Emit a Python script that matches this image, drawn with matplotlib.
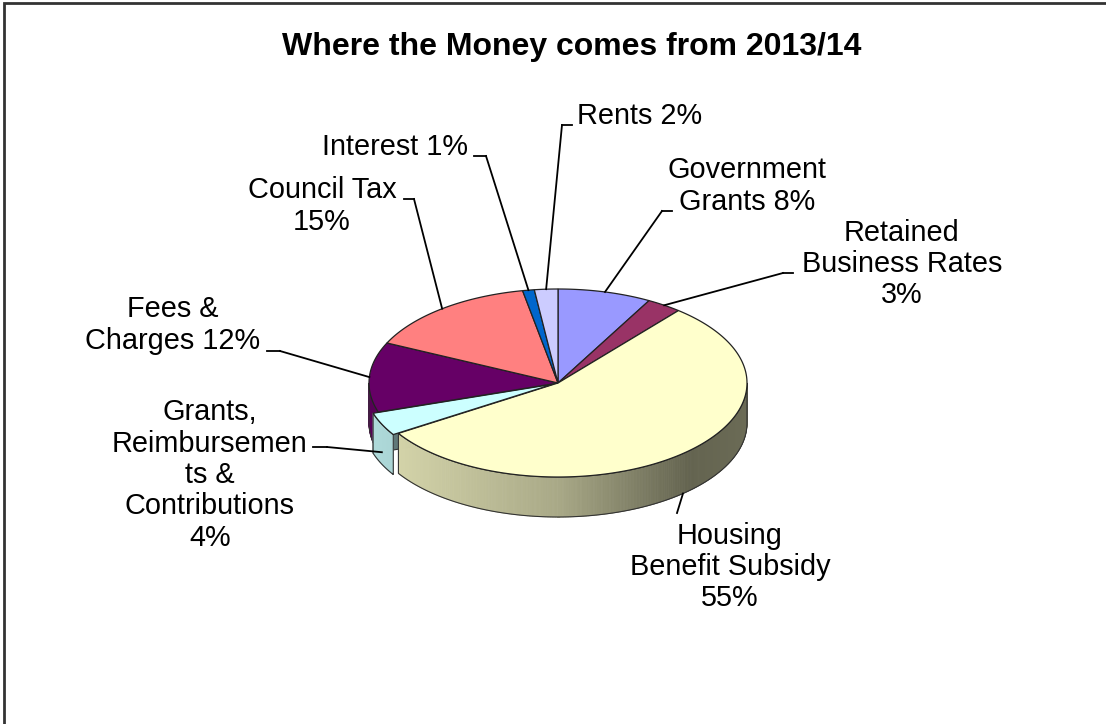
import numpy as np
import matplotlib.pyplot as plt
from matplotlib.patches import Polygon
from matplotlib.collections import PolyCollection
from matplotlib.colors import to_rgb

plt.rcParams['font.family'] = ['Liberation Sans', 'DejaVu Sans']

# Income sources, in drawing order (clockwise from 12 o'clock)
sources = ["Government\nGrants 8%", "Retained\nBusiness Rates\n3%", "Housing\nBenefit Subsidy\n55%",
           "Grants,\nReimbursemen\nts &\nContributions\n4%", "Fees &\nCharges 12%",
           "Council Tax\n15%", "Interest 1%", "Rents 2%"]
shares = [8, 3, 55, 4, 12, 15, 1, 2]
colors = ["#9999FF", "#993366", "#FFFFCC", "#CCFFFF", "#660066", "#FF8080", "#0066CC", "#CCCCFF"]
exploded = [0, 0, 0, 1, 0, 0, 0, 0]

# pie geometry (pixels)
cx, cy = 558, 383
rx, ry = 189, 94
depth = 40
explode_dist = 0.03

fig = plt.figure(figsize=(11.06, 7.24), dpi=100)
ax = fig.add_axes([0, 0, 1, 1])
ax.set_xlim(0, 1106)
ax.set_ylim(724, 0)
ax.axis('off')

# chart frame (only top and left edges fall inside the image)
ax.plot([4, 4, 1130], [740, 3, 3], color="#333333", lw=2, solid_joinstyle='miter')

ax.text(572, 47, "Where the Money comes from 2013/14", ha='center', va='center',
        fontsize=23, fontweight='bold')


def rim(theta, dx=0, dy=0, drop=0):
    t = np.radians(theta)
    return cx + dx + rx * np.cos(t), cy + dy - ry * np.sin(t) + drop


def shade(x):
    return np.interp(x, [369, 560, 690, 747], [0.86, 0.66, 0.39, 0.42])


# slice angles
total = sum(shares)
bounds = [90.0]
for s in shares:
    bounds.append(bounds[-1] - 360.0 * s / total)

offsets = []
for i in range(len(shares)):
    mid = np.radians((bounds[i] + bounds[i + 1]) / 2)
    d = explode_dist * exploded[i]
    offsets.append((d * rx * np.cos(mid), -d * ry * np.sin(mid)))


def draw_side(i):
    a1, a0 = bounds[i], bounds[i + 1]  # a0 < a1
    dx, dy = offsets[i]
    base = np.array(to_rgb(colors[i]))
    # visible angular range: angles where the rim faces the viewer
    lo = a0 % 360
    hi = lo + (a1 - a0)
    for start in (180, 540):
        s0, s1 = max(lo, start), min(hi, start + 180)
        if s1 <= s0:
            continue
        ts = np.linspace(s0, s1, int((s1 - s0) * 2) + 2)
        quads, cols = [], []
        for ta, tb in zip(ts[:-1], ts[1:]):
            xa, ya = rim(ta, dx, dy)
            xb, yb = rim(tb, dx, dy)
            quads.append([(xa, ya), (xb, yb), (xb, yb + depth), (xa, ya + depth)])
            cols.append(np.clip(base * shade((xa + xb) / 2), 0, 1))
        ax.add_collection(PolyCollection(quads, facecolors=cols, edgecolors=cols, lw=0.6))
        top = [rim(t, dx, dy) for t in ts]
        bot = [rim(t, dx, dy, depth) for t in ts[::-1]]
        ax.add_patch(Polygon(top + bot, closed=True, fill=False, edgecolor="#333333", lw=0.8))


# cut faces of exploded slices (clockwise edge faces the viewer)
for i in range(len(shares)):
    if exploded[i]:
        dx, dy = offsets[i]
        p1 = (cx + dx, cy + dy)
        p2 = rim(bounds[i + 1], dx, dy)
        face = [p1, p2, (p2[0], p2[1] + depth), (p1[0], p1[1] + depth)]
        ax.add_patch(Polygon(face, closed=True, facecolor=np.array(to_rgb(colors[i])) * 0.47,
                             edgecolor="#333333", lw=0.8))

# side walls: slices in place first, exploded ones in front of them
for i in range(len(shares)):
    if not exploded[i]:
        draw_side(i)
for i in range(len(shares)):
    if exploded[i]:
        draw_side(i)

# top faces
for i in range(len(shares)):
    a1, a0 = bounds[i], bounds[i + 1]
    dx, dy = offsets[i]
    ts = np.linspace(a1, a0, max(int((a1 - a0) * 2), 4))
    pts = [(cx + dx, cy + dy)] + [rim(t, dx, dy) for t in ts]
    ax.add_patch(Polygon(pts, closed=True, facecolor=colors[i], edgecolor="#222222", lw=0.9))

# data labels: text centre, alignment, elbow point, end of short tick, drop into wall
label_layout = [
    ((747, 186), 'center', (662, 211), (672, 211), 0.0),
    ((902, 264), 'center', (783, 273), (793, 273), 0.0),
    ((730, 567), 'center', (677, 513), None, 1.0),
    ((210, 475), 'center', (327, 447), (313, 447), 0.7),
    ((173, 325), 'center', (280, 351), (267, 351), 0.0),
    ((322, 206), 'center', (414, 199), (404, 199), 0.0),
    ((468, 147), 'right', (486, 156), (474, 156), 0.0),
    ((577, 116), 'left', (562, 125), (572, 125), 0.0),
]

for i, (txt, (pos, ha, elbow, tick, drop)) in enumerate(zip(sources, label_layout)):
    mid = (bounds[i] + bounds[i + 1]) / 2
    dx, dy = offsets[i]
    ax_, ay_ = rim(mid, dx, dy, drop * depth)
    ax.plot([ax_, elbow[0]], [ay_, elbow[1]], color='black', lw=1.3)
    if tick is not None:
        ax.plot([elbow[0], tick[0]], [elbow[1], tick[1]], color='black', lw=1.3)
    ax.text(pos[0], pos[1], txt, ha=ha, va='center', multialignment='center',
            fontsize=20.8, linespacing=1.15)

fig.savefig("out.png", dpi=100)
